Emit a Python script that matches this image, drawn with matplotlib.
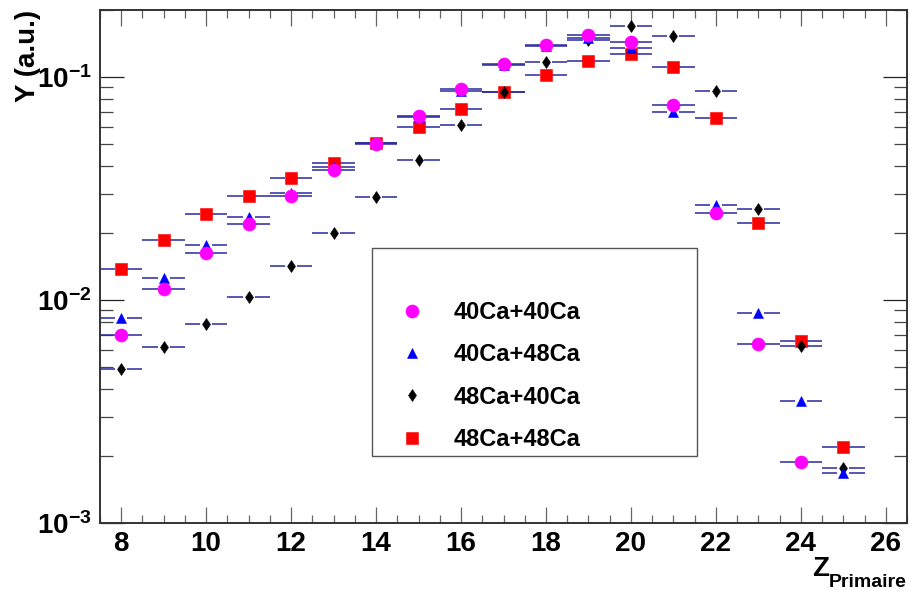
import matplotlib
matplotlib.use("Agg")
import matplotlib.pyplot as plt
from matplotlib.ticker import LogLocator, MultipleLocator, FuncFormatter, NullFormatter
from matplotlib.patches import Rectangle
import numpy as np

plt.rcParams['font.family'] = ['Liberation Sans', 'DejaVu Sans']
plt.rcParams['font.weight'] = 'bold'
plt.rcParams['mathtext.fontset'] = 'custom'
plt.rcParams['mathtext.rm'] = 'Liberation Sans:bold'
plt.rcParams['mathtext.bf'] = 'Liberation Sans:bold'
plt.rcParams['mathtext.it'] = 'Liberation Sans:bold'

# yields per primary charge
z_all = [8, 9, 10, 11, 12, 13, 14, 15, 16, 17, 18, 19, 20, 21, 22, 23, 24, 25]
z_4040 = z_all[:-1]   # no 40Ca+40Ca point at Z=25

y_4040 = [0.00694, 0.0112, 0.0162, 0.0219, 0.0293, 0.0383, 0.0500, 0.0672, 0.0883,
          0.1145, 0.140, 0.155, 0.144, 0.0748, 0.0247, 0.00635, 0.00187]
y_4048 = [0.0083, 0.0125, 0.0177, 0.0235, 0.0303, 0.0396, 0.0505, 0.066, 0.0865,
          0.113, 0.1375, 0.150, 0.1345, 0.0698, 0.0268, 0.00877, 0.00352, 0.00167]
y_4840 = [0.0049, 0.00614, 0.00778, 0.01035, 0.01425, 0.0199, 0.0291, 0.0425, 0.0611,
          0.086, 0.1164, 0.146, 0.170, 0.1528, 0.0862, 0.0256, 0.0062, 0.00176]
y_4848 = [0.0138, 0.0186, 0.0243, 0.0294, 0.0351, 0.0414, 0.0504, 0.0598, 0.0719,
          0.0854, 0.102, 0.1175, 0.1268, 0.1114, 0.0657, 0.0222, 0.00657, 0.0022]

labels = ['40Ca+40Ca', '40Ca+48Ca', '48Ca+40Ca', '48Ca+48Ca']

fig = plt.figure(figsize=(9.1, 5.9), dpi=100)
ax = fig.add_axes([100/910, 1-523/590, 807/910, 513/590])

err_col = '#2a2aa0'
half_bin = 0.5
gap = 0.14

series = [
    (z_all, y_4848, 's', 'red', 8.0, labels[3]),
    (z_all, y_4840, 'd', 'black', 6.5, labels[2]),
    (z_all, y_4048, '^', 'blue', 7.8, labels[1]),
    (z_4040, y_4040, 'o', 'magenta', 9.4, labels[0]),
]

handles = {}
for z, y, m, c, ms, lab in series:
    z = np.array(z, dtype=float)
    # horizontal bin-width bars with a gap round the marker (ROOT style)
    ax.hlines(y, z - half_bin, z - gap, color=err_col, lw=1.1, zorder=2)
    ax.hlines(y, z + gap, z + half_bin, color=err_col, lw=1.1, zorder=2)
    h, = ax.plot(z, y, ls='none', marker=m, color=c, ms=ms, mec=c, mew=0.4,
                 zorder=3, label=lab)
    handles[lab] = h

ax.set_yscale('log')
ax.set_xlim(7.5, 26.5)
ax.set_ylim(1e-3, 0.2)

ax.xaxis.set_major_locator(MultipleLocator(2))
ax.xaxis.set_minor_locator(MultipleLocator(0.5))
ax.yaxis.set_major_locator(LogLocator(base=10))
ax.yaxis.set_minor_locator(LogLocator(base=10, subs=np.arange(2, 10)))
ax.yaxis.set_minor_formatter(NullFormatter())
ax.yaxis.set_major_formatter(FuncFormatter(lambda v, p: r'$\mathbf{10^{%d}}$' % round(np.log10(v))))

ax.tick_params(axis='both', which='both', direction='in', top=True, right=True, labelsize=20)
ax.tick_params(axis='x', which='major', length=11.5, width=0.9, color='#666666', pad=6)
ax.tick_params(axis='x', which='minor', length=5.8, width=0.9, color='#666666')
ax.tick_params(axis='y', which='major', length=17, width=0.9, color='#222222', pad=6)
ax.tick_params(axis='y', which='minor', length=9.4, width=0.9, color='#444444')
for lab in ax.get_xticklabels() + ax.get_yticklabels():
    lab.set_fontweight('bold')

for s in ax.spines.values():
    s.set_linewidth(1.4)
    s.set_color('#333333')

fig.text(28/910, 1-10/590, 'Y (a.u.)', rotation=90, ha='center', va='top',
         fontsize=20, fontweight='bold')
# axis title Z with subscript "Primaire"
fig.text(812/910, 1-576/590, 'Z', ha='left', va='baseline', fontsize=20, fontweight='bold')
fig.text(907/910, 1-587/590, 'Primaire', ha='right', va='baseline', fontsize=14,
         fontweight='bold')

# legend box
ax.add_patch(Rectangle((372/910, 1-456/590), 325/910, 208/590,
                       transform=fig.transFigure, fill=True, facecolor='white',
                       edgecolor='#555555', lw=1.0, zorder=4, clip_on=False))
leg = ax.legend([handles[l] for l in labels], labels, loc='upper left',
                bbox_to_anchor=(401/910, 1-301/590), bbox_transform=fig.transFigure,
                frameon=False, fontsize=17, numpoints=1, handlelength=0.94,
                handletextpad=1.27, labelspacing=0.82, borderpad=0, borderaxespad=0)
leg.set_zorder(5)
for t in leg.get_texts():
    t.set_fontweight('bold')

fig.savefig('out.png', dpi=100)
